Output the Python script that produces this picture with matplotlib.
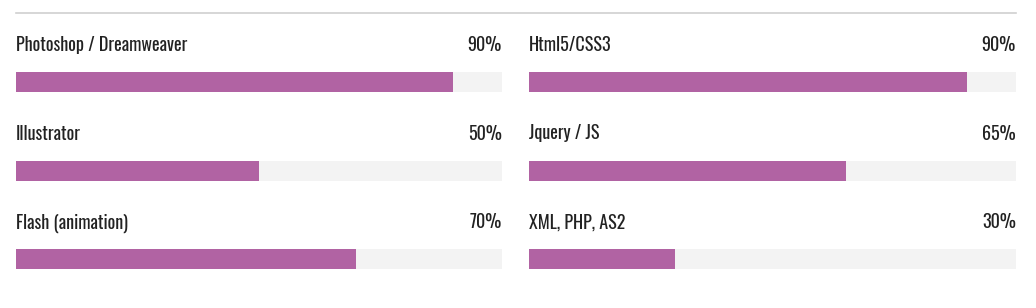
import matplotlib
matplotlib.use("Agg")
import matplotlib.pyplot as plt

plt.rcParams['font.family'] = ['Oswald', 'DejaVu Sans']

# skill data, two columns
left_skills = ["Photoshop / Dreamweaver", "Illustrator", "Flash (animation)"]
left_values = [90, 50, 70]
right_skills = ["Html5/CSS3", "Jquery / JS", "XML, PHP, AS2"]
right_values = [90, 65, 30]

W, H = 1036, 308
fig = plt.figure(figsize=(W / 100, H / 100), dpi=100)
ax = fig.add_axes([0, 0, 1, 1])
ax.set_xlim(0, W)
ax.set_ylim(H, 0)
ax.axis('off')

purple = '#b163a3'
track = '#f3f3f3'
txt = '#222222'

# top rule
ax.plot([16, 1016], [12.5, 12.5], color='#d0d0d0', lw=1.2)

bar_y = [82, 171, 259]
base_y = [51, 139.5, 228.5]
bar_h = 20

columns = [(16, 486, left_skills, left_values), (529, 487, right_skills, right_values)]
for x0, width, skills, values in columns:
    ax.barh(bar_y, [width] * 3, left=x0, height=bar_h, color=track, linewidth=0)
    ax.barh(bar_y, [v / 100 * width for v in values], left=x0, height=bar_h,
            color=purple, linewidth=0)
    for name, v, by in zip(skills, values, base_y):
        ax.text(x0, by, name, fontsize=13, fontweight='light', color=txt,
                va='baseline', ha='left')
        ax.text(x0 + width, by, f"{v}%", fontsize=13, fontweight='light',
                color=txt, va='baseline', ha='right')

fig.savefig('out.png', dpi=100)
